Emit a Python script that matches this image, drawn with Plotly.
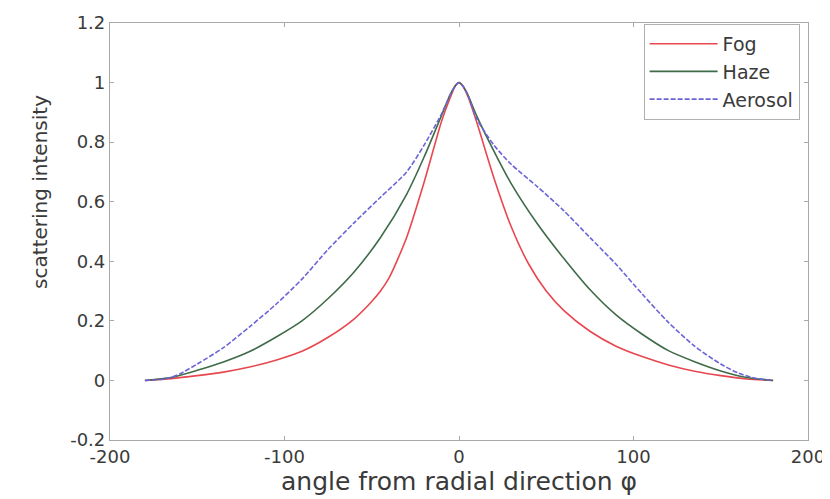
import plotly.graph_objects as go

# ---- data ----
fog_x = [-180, -165, -150, -135, -120, -105, -90, -75, -60, -50, -45, -40, -30, -20, -10, -5, -2, 0,
         2, 5, 10, 20, 30, 40, 50, 60, 75, 90, 105, 120, 135, 150, 165, 180]
fog_y = [0.0, 0.006, 0.016, 0.028, 0.045, 0.068, 0.098, 0.145, 0.207, 0.265, 0.30, 0.345, 0.48, 0.665, 0.87, 0.95, 0.99, 1.0,
         0.99, 0.955, 0.87, 0.68, 0.515, 0.39, 0.30, 0.235, 0.165, 0.115, 0.08, 0.052, 0.031, 0.016, 0.005, 0.0]

haze_x = [-180, -165, -150, -135, -120, -105, -90, -75, -60, -45, -30, -20, -10, -5, -2, 0,
          2, 5, 10, 20, 30, 45, 60, 75, 90, 105, 120, 135, 150, 165, 180]
haze_y = [0.0, 0.01, 0.034, 0.062, 0.097, 0.145, 0.20, 0.275, 0.365, 0.48, 0.625, 0.75, 0.89, 0.96, 0.99, 1.0,
          0.99, 0.96, 0.89, 0.77, 0.66, 0.525, 0.41, 0.305, 0.22, 0.155, 0.10, 0.063, 0.032, 0.01, 0.0]

aer_x = [-180, -170, -165, -160, -150, -135, -120, -105, -90, -75, -60, -45, -30, -20, -10, -5, -2, 0,
         2, 5, 10, 20, 30, 45, 60, 75, 90, 105, 120, 135, 150, 160, 170, 180]
aer_y = [0.0, 0.004, 0.01, 0.022, 0.055, 0.11, 0.18, 0.255, 0.34, 0.44, 0.53, 0.615, 0.70, 0.79, 0.895, 0.96, 0.99, 1.0,
         0.99, 0.96, 0.88, 0.79, 0.725, 0.65, 0.57, 0.48, 0.39, 0.29, 0.195, 0.115, 0.055, 0.025, 0.007, 0.0]

series_names = ["Fog", "Haze", "Aerosol"]

x_tickvals = [-200, -100, 0, 100, 200]
x_ticktext = ["-200", "-100", "0", "100", "200"]
y_tickvals = [-0.2, 0, 0.2, 0.4, 0.6, 0.8, 1.0, 1.2]
y_ticktext = ["-0.2", "0", "0.2", "0.4", "0.6", "0.8", "1", "1.2"]

x_title = "angle from radial direction φ"
y_title = "scattering intensity"

FONT = "DejaVu Sans, Verdana, sans-serif"
TXT = "#3a3a3a"

fig = go.Figure()
fig.add_trace(go.Scatter(x=fog_x, y=fog_y, mode="lines", name=series_names[0],
                         line=dict(color="#e8474f", width=1.6, shape="spline", smoothing=0.7)))
fig.add_trace(go.Scatter(x=haze_x, y=haze_y, mode="lines", name=series_names[1],
                         line=dict(color="#3f6b48", width=1.6, shape="spline", smoothing=0.7)))
fig.add_trace(go.Scatter(x=aer_x, y=aer_y, mode="lines", name=series_names[2],
                         line=dict(color="#6a64d8", width=1.6, dash="5px,2px", shape="spline", smoothing=0.7)))

axis_common = dict(
    showline=True, linecolor="#a8a8a8", linewidth=1.2, mirror="ticks",
    ticks="inside", ticklen=4, tickcolor="#a8a8a8", showgrid=False, zeroline=False,
    tickfont=dict(family=FONT, size=18, color=TXT),
)

fig.update_layout(
    width=830, height=499,
    margin=dict(l=102, r=30, t=15, b=67),
    paper_bgcolor="white", plot_bgcolor="white",
    font=dict(family=FONT, color=TXT),
    xaxis=dict(range=[-200, 200], tickvals=x_tickvals, ticktext=x_ticktext,
               title=dict(text=x_title, font=dict(family=FONT, size=25, color=TXT), standoff=2),
               **axis_common),
    yaxis=dict(range=[-0.2, 1.2], tickvals=y_tickvals, ticktext=y_ticktext,
               automargin=False, ticklabeloverflow="allow",
               **axis_common),
    legend=dict(x=0.988, xanchor="right", y=0.998, yanchor="top",
                bgcolor="white", bordercolor="#b0b0b0", borderwidth=1,
                font=dict(family=FONT, size=19, color=TXT),
                tracegroupgap=0, itemwidth=68),
    showlegend=True,
)

fig.add_annotation(text=y_title, xref="paper", yref="paper", x=0, y=0.595,
                   xanchor="center", yanchor="middle", xshift=-70, textangle=-90,
                   showarrow=False, font=dict(family=FONT, size=20, color=TXT))

fig.write_html("out.html")
